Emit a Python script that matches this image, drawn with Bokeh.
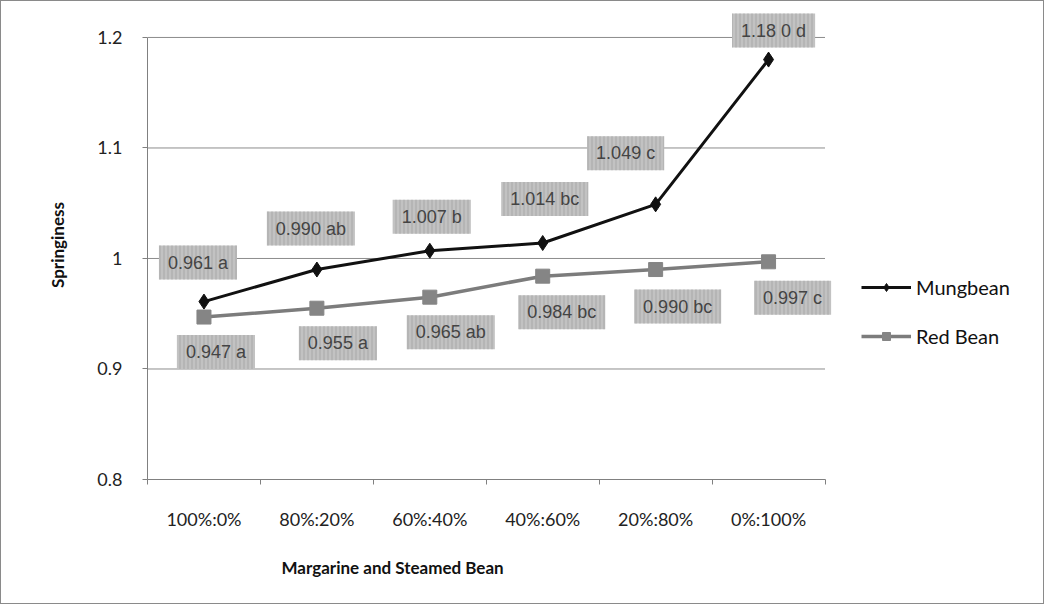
from bokeh.plotting import figure
from bokeh.models import ColumnDataSource, FixedTicker, Legend, LegendItem, Title
from bokeh.core.properties import value
from bokeh.embed import file_html
from bokeh.resources import INLINE

categories = ["100%:0%", "80%:20%", "60%:40%", "40%:60%", "20%:80%", "0%:100%"]
mungbean = [0.961, 0.990, 1.007, 1.014, 1.049, 1.180]
mungbean_labels = ["0.961 a", "0.990 ab", "1.007 b", "1.014 bc", "1.049 c", "1.18 0 d"]
redbean = [0.947, 0.955, 0.965, 0.984, 0.990, 0.997]
redbean_labels = ["0.947 a", "0.955 a", "0.965 ab", "0.984 bc", "0.990 bc", "0.997 c"]
y_ticks = [0.8, 0.9, 1.0, 1.1, 1.2]
x_title = "Margarine and Steamed Bean"
y_title = "Springiness"

# label placement (pixels, screen offsets) - styling only
mung_dx = [-6, -6, 2, 2, -30, 5]
mung_dy = [39, 41, 34, 44, 51, 29]
red_dx = [12, 21, 21, 19, 22, 24]
red_dy = [-35, -35, -35, -36, -37, -36]

n = len(categories)
xs = list(range(n))
src_m = ColumnDataSource(dict(x=xs, y=mungbean, lab=mungbean_labels, dx=mung_dx, dy=[-d for d in mung_dy]))
src_r = ColumnDataSource(dict(x=xs, y=redbean, lab=redbean_labels, dx=red_dx, dy=[-d for d in red_dy]))

FONT = "Lato"
# plot area extends to the right so the legend can sit inside it
x_end = -0.5 + n * (893 / 676)
p = figure(width=1044, height=604, output_backend="svg", toolbar_location=None,
           x_range=(-0.5, x_end), y_range=(0.8, 1.2244),
           min_border_left=146, min_border_right=3, min_border_top=9, min_border_bottom=126,
           background_fill_color="white", border_fill_color="white", outline_line_color=None)
p.styles = {"border": "1px solid #8a8a8a"}

# axes
p.xaxis.ticker = FixedTicker(ticks=xs, minor_ticks=[i - 0.5 for i in range(n + 1)])
p.xaxis.major_label_overrides = {i: c for i, c in enumerate(categories)}
p.xaxis.bounds = (-0.5, n - 0.5)
p.xaxis.major_tick_out = 0
p.xaxis.major_tick_in = 0
p.xaxis.minor_tick_out = 5
p.xaxis.minor_tick_in = 0
p.xaxis.minor_tick_line_color = "#808080"
p.xaxis.axis_line_color = "#808080"
p.xaxis.major_label_standoff = 23

p.yaxis.ticker = FixedTicker(ticks=y_ticks)
p.yaxis.major_label_overrides = {1.0: "1", 1: "1"}
p.yaxis.bounds = (0.8, 1.2)
p.yaxis.axis_line_color = "#808080"
p.yaxis.major_tick_line_color = "#808080"
p.yaxis.major_tick_out = 5
p.yaxis.major_tick_in = 0
p.yaxis.minor_tick_line_color = None
p.yaxis.major_label_standoff = 20
p.yaxis.axis_label = y_title
p.yaxis.axis_label_standoff = 26

for ax in (p.xaxis, p.yaxis):
    ax.major_label_text_font = FONT
    ax.major_label_text_font_size = "18px"
    ax.major_label_text_color = "#222222"
    ax.axis_label_text_font = FONT
    ax.axis_label_text_font_size = "17px"
    ax.axis_label_text_font_style = "bold"
    ax.axis_label_text_color = "#111111"

# x-axis title centred under the category span (not the whole plot area)
p.add_layout(Title(text=x_title, align="left", offset=134, standoff=44,
                   text_font=FONT, text_font_size="17px", text_font_style="bold",
                   text_color="#111111"), "below")

p.xgrid.grid_line_color = None
p.ygrid.grid_line_color = None
# horizontal gridlines across the category span only
p.segment(x0=[-0.5] * (len(y_ticks) - 1), x1=[n - 0.5] * (len(y_ticks) - 1),
          y0=y_ticks[1:], y1=y_ticks[1:], line_color="#8c8c8c", line_width=1)

# series
r_line = p.line("x", "y", source=src_r, line_color="#7c7c7c", line_width=3.5)
r_mk = p.scatter("x", "y", source=src_r, marker="square", size=14, fill_color="#858585", line_color="#858585")
m_line = p.line("x", "y", source=src_m, line_color="#111111", line_width=3)
m_mk = p.scatter("x", "y", source=src_m, marker="diamond", size=15, fill_color="#111111", line_color="#111111")

# data labels
for src in (src_m, src_r):
    p.text("x", "y", text="lab", source=src, x_offset="dx", y_offset="dy",
           text_align="center", text_baseline="middle",
           text_font=value("Liberation Sans"), text_font_size="18px", text_color="#444444",
           background_fill_color="#c2c2c2", background_hatch_pattern="vertical_line",
           background_hatch_color="#a8a8a8", background_hatch_scale=4,
           padding=(9, 7))

legend = Legend(items=[LegendItem(label="Mungbean", renderers=[m_line, m_mk]),
                       LegendItem(label="Red Bean", renderers=[r_line, r_mk])],
                location=(714, 131), orientation="vertical",
                label_text_font=FONT, label_text_font_size="20px", label_text_color="#111111",
                glyph_width=50, glyph_height=20, label_standoff=5, spacing=25,
                border_line_color=None, background_fill_alpha=0, padding=4, margin=0)
p.add_layout(legend, "center")

open("out.html", "w").write(file_html(p, INLINE))
